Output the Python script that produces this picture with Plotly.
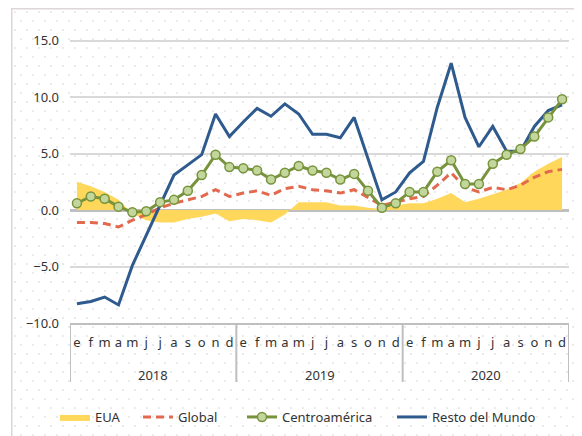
import base64
import plotly.graph_objects as go

months = ['e', 'f', 'm', 'a', 'm', 'j', 'j', 'a', 's', 'o', 'n', 'd'] * 3
years = ['2018', '2019', '2020']

eua = [2.5, 2.1, 1.6, 0.9, -0.3, -0.9, -1.1, -1.1, -0.8, -0.6, -0.3, -1.0,
       -0.8, -0.9, -1.1, -0.4, 0.7, 0.7, 0.7, 0.4, 0.4, 0.2, 0.1, 0.4,
       0.6, 0.6, 1.0, 1.5, 0.7, 1.0, 1.4, 1.8, 2.4, 3.4, 4.1, 4.7]
global_ = [-1.1, -1.1, -1.2, -1.5, -0.9, -0.4, 0.2, 0.6, 0.9, 1.2, 1.8, 1.2,
           1.5, 1.7, 1.3, 1.9, 2.1, 1.8, 1.7, 1.5, 1.8, 1.1, 0.4, 0.7,
           1.0, 1.2, 2.2, 3.3, 2.0, 1.6, 2.0, 1.8, 2.2, 2.9, 3.4, 3.6]
centro = [0.6, 1.2, 1.0, 0.3, -0.2, -0.1, 0.7, 0.9, 1.7, 3.1, 4.9, 3.8,
          3.7, 3.5, 2.7, 3.3, 3.9, 3.5, 3.3, 2.7, 3.2, 1.7, 0.2, 0.6,
          1.6, 1.6, 3.4, 4.4, 2.3, 2.3, 4.1, 4.9, 5.4, 6.5, 8.2, 9.8]
resto = [-8.3, -8.1, -7.7, -8.4, -4.9, -2.2, 0.4, 3.1, 4.0, 4.9, 8.5, 6.5,
         7.8, 9.0, 8.3, 9.4, 8.5, 6.7, 6.7, 6.4, 8.2, 4.5, 0.9, 1.6,
         3.3, 4.3, 9.1, 13.0, 8.2, 5.6, 7.4, 5.2, 5.2, 7.4, 8.8, 9.3]

x = list(range(len(months)))
FONT = "Noto Sans"
TXT = "#333333"
AX = "#BFBFBF"

# layout geometry (page has an 8px body margin, so the figure is 8px smaller)
W, H = 574, 428
ML, MR, MT, MB = 62, 13, 10, 113
PW, PH = W - ML - MR, H - MT - MB
BOT = MT + PH  # pixel y of plot bottom inside figure

# decorative dotted background + outer frame
svg = (
    f"<svg xmlns='http://www.w3.org/2000/svg' width='{W}' height='{H}'>"
    "<defs><pattern id='p' x='3' y='0' width='12' height='18' patternUnits='userSpaceOnUse'>"
    "<circle cx='4' cy='4' r='0.8' fill='#cfcfcf'/>"
    "<circle cx='10' cy='13' r='0.8' fill='#cfcfcf'/></pattern></defs>"
    f"<rect x='3' y='0' width='{W}' height='{H}' fill='url(#p)'/>"
    f"<rect x='3.75' y='0.75' width='{W + 10}' height='{H + 10}' fill='none' stroke='#ddd5da' stroke-width='1.5'/>"
    "</svg>"
)
src = "data:image/svg+xml;base64," + base64.b64encode(svg.encode()).decode()

fig = go.Figure()
fig.add_trace(go.Scatter(
    x=x, y=eua, name="EUA", mode="lines", fill="tozeroy",
    fillcolor="#FFD75A", line=dict(width=0, color="#FFD75A"), legend="legend"))
fig.add_trace(go.Scatter(
    x=x, y=global_, name="Global", mode="lines",
    line=dict(color="#E3694E", width=3, dash="8px,5px"), legend="legend2"))
fig.add_trace(go.Scatter(
    x=x, y=resto, name="Resto del Mundo", mode="lines",
    line=dict(color="#2F5A8E", width=3), legend="legend4"))
fig.add_trace(go.Scatter(
    x=x, y=centro, name="Centroamérica", mode="lines+markers",
    line=dict(color="#77933C", width=3),
    marker=dict(size=9, color="#C3D69B", line=dict(color="#77933C", width=1.5)),
    legend="legend3"))

shapes = []
for b in [-0.5, 11.5, 23.5, 35.5]:
    shapes.append(dict(type="line", xref="x", yref="paper", x0=b, x1=b,
                       y0=0, y1=-(374 - BOT) / PH,
                       line=dict(color=AX, width=2)))

annotations = []
for i, yr in enumerate(years):
    annotations.append(dict(text=yr, x=i * 12 + 5.5, xref="x", y=-(367 - BOT) / PH,
                            yref="paper", showarrow=False, yanchor="middle",
                            font=dict(family=FONT, size=13, color=TXT)))


def leg(px):
    return dict(orientation="h", x=(px - ML) / PW, xanchor="left",
                y=-(409 - BOT) / PH, yanchor="middle",
                font=dict(family=FONT, size=13, color=TXT),
                bgcolor="rgba(0,0,0,0)")


fig.update_layout(
    width=W, height=H,
    margin=dict(l=ML, r=MR, t=MT, b=MB, autoexpand=False),
    paper_bgcolor="white", plot_bgcolor="rgba(0,0,0,0)",
    font=dict(family=FONT, size=13, color=TXT),
    images=[dict(source=src, xref="paper", yref="paper",
                 x=-ML / PW, y=BOT / PH, sizex=W / PW, sizey=H / PH,
                 xanchor="left", yanchor="top", sizing="stretch", layer="below")],
    shapes=shapes, annotations=annotations,
    showlegend=True,
    legend=leg(47), legend2=leg(130), legend3=leg(234), legend4=leg(384),
)
fig.update_xaxes(range=[-0.5, 35.5], tickmode="array", tickvals=x, ticktext=months,
                 showgrid=False, zeroline=False, showline=True, linecolor=AX, linewidth=2,
                 ticks="", ticklabelstandoff=6, automargin=False,
                 tickfont=dict(family=FONT, size=13, color=TXT))
fig.update_yaxes(range=[-10, 17], tickmode="array", tickvals=[-10, -5, 0, 5, 10, 15],
                 tickformat=".1f", showgrid=True, gridcolor="#D9D9D9", gridwidth=1.5,
                 zeroline=True, zerolinecolor=AX, zerolinewidth=2.5, showline=False,
                 ticks="", ticklabelstandoff=10, automargin=False,
                 tickfont=dict(family=FONT, size=13, color=TXT))

fig.write_html("out.html")
